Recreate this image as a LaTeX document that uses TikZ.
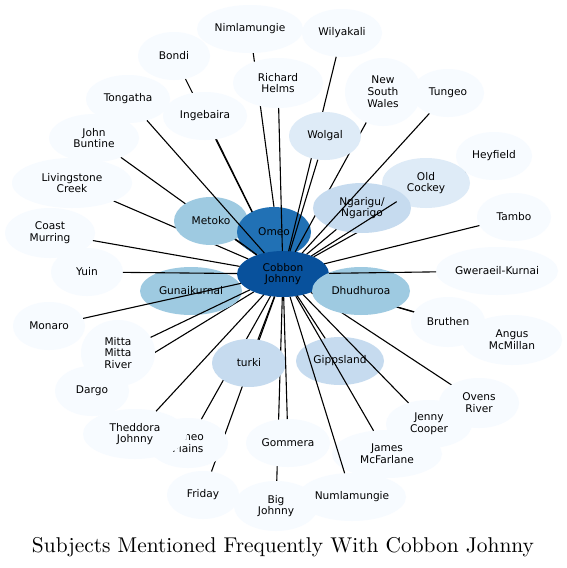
\documentclass[tikz,border=0pt]{standalone}
\usepackage{fontspec}
\newfontfamily\dvs{DejaVu Sans}
\newfontfamily\lmten{lmroman10-regular.otf}
\usetikzlibrary{shapes.geometric}
\definecolor{b1}{HTML}{F7FBFF}
\definecolor{b2}{HTML}{DEEBF7}
\definecolor{b3}{HTML}{C6DBEF}
\definecolor{b4}{HTML}{9ECAE1}
\definecolor{b7}{HTML}{2171B5}
\definecolor{b8}{HTML}{08519C}
\pgfdeclarelayer{bg}
\pgfdeclarelayer{eback}
\pgfdeclarelayer{emid}
\pgfdeclarelayer{ntop}
\pgfdeclarelayer{etop}
\pgfsetlayers{bg,eback,main,emid,ntop,etop}
\begin{document}
\begin{tikzpicture}[x=1pt,y=-1pt,
  nd/.style={ellipse,inner sep=0pt,outer sep=0pt,align=center,font=\dvs\fontsize{10.6pt}{11.8pt}\selectfont},
  ed/.style={draw=black,line width=1.1pt}]
\begin{pgfonlayer}{bg}
\fill[white] (0,0) rectangle (567,568);
\end{pgfonlayer}
\useasboundingbox (0,0) rectangle (567,568);
% main-layer nodes
\node[nd,fill=b1,minimum width=106pt,minimum height=48pt] (nim) at (250,29) {Nimlamungie};
\node[nd,fill=b1,minimum width=80pt,minimum height=48pt] (wil) at (342,33) {Wilyakali};
\node[nd,fill=b1,minimum width=72pt,minimum height=48pt] (bon) at (174,56) {Bondi};
\node[nd,fill=b1,minimum width=90pt,minimum height=50pt] (rh) at (278,83) {Richard\\Helms};
\node[nd,fill=b1,minimum width=76pt,minimum height=68pt] (nsw) at (383,92) {New\\South\\Wales};
\node[nd,fill=b1,minimum width=72pt,minimum height=48pt] (tun) at (448,93) {Tungeo};
\node[nd,fill=b1,minimum width=84pt,minimum height=48pt] (ton) at (128,99) {Tongatha};
\node[nd,fill=b1,minimum width=84pt,minimum height=48pt] (ing) at (205,116) {Ingebaira};
\node[nd,fill=b1,minimum width=76pt,minimum height=48pt] (hey) at (494,156) {Heyfield};
\node[nd,fill=b1,minimum width=90pt,minimum height=48pt] (jb) at (94,138) {John\\Buntine};
\node[nd,fill=b2,minimum width=88pt,minimum height=50pt] (oc) at (426,183) {Old\\Cockey};
\node[nd,fill=b1,minimum width=120pt,minimum height=50pt] (lc) at (72,183) {Livingstone\\Creek};
\node[nd,fill=b1,minimum width=74pt,minimum height=48pt] (tam) at (514,217) {Tambo};
\node[nd,fill=b4,minimum width=74pt,minimum height=48pt] (met) at (211,221) {Metoko};
\node[nd,fill=b7,minimum width=74pt,minimum height=50pt] (ome) at (274,232) {Omeo};
\node[nd,fill=b1,minimum width=90pt,minimum height=50pt] (cm) at (50,233) {Coast\\Murring};
\node[nd,fill=b1,minimum width=72pt,minimum height=48pt] (yui) at (87,272) {Yuin};
\node[nd,fill=b1,minimum width=122pt,minimum height=48pt] (gk) at (497,271) {Gweraeil-Kurnai};
\node[nd,fill=b4,minimum width=102pt,minimum height=48pt] (gun) at (191,291) {Gunaikurnai};
\node[nd,fill=b8,minimum width=92pt,minimum height=46pt] (cj) at (283,274) {Cobbon\\Johnny};
\node[nd,fill=b4,minimum width=98pt,minimum height=48pt] (dhu) at (361,291) {Dhudhuroa};
\node[nd,fill=b1,minimum width=100pt,minimum height=50pt] (am) at (512,340) {Angus\\McMillan};
\node[nd,fill=b1,minimum width=74pt,minimum height=50pt] (bru) at (448,322) {Bruthen};
\node[nd,fill=b1,minimum width=72pt,minimum height=48pt] (mon) at (49,326) {Monaro};
\node[nd,fill=b1,minimum width=74pt,minimum height=50pt] (dar) at (92,391) {Dargo};
\node[nd,fill=b1,minimum width=74pt,minimum height=66pt] (mmr) at (118,353) {Mitta\\Mitta\\River};
\node[nd,fill=b3,minimum width=74pt,minimum height=48pt] (tur) at (249,363) {turki};
\node[nd,fill=b3,minimum width=88pt,minimum height=48pt] (gip) at (340,361) {Gippsland};
\node[nd,fill=b1,minimum width=80pt,minimum height=50pt] (ovr) at (479,403) {Ovens\\River};
\node[nd,fill=b1,minimum width=86pt,minimum height=48pt] (jc) at (429,424) {Jenny\\Cooper};
\node[nd,fill=b1,minimum width=80pt,minimum height=50pt] (op) at (188,443) {Omeo\\Plains};
\node[nd,fill=b1,minimum width=104pt,minimum height=50pt] (tj) at (135,434) {Theddora\\Johnny};
\node[nd,fill=b1,minimum width=84pt,minimum height=48pt] (gom) at (288,443) {Gommera};
\node[nd,fill=b1,minimum width=110pt,minimum height=48pt] (jm) at (387,454) {James\\McFarlane};
\node[nd,fill=b1,minimum width=72pt,minimum height=48pt] (fri) at (203,495) {Friday};
\node[nd,fill=b1,minimum width=108pt,minimum height=48pt] (num) at (352,497) {Numlamungie};
\node[nd,fill=b1,minimum width=84pt,minimum height=50pt] (bj) at (276,506) {Big\\Johnny};
% top-layer nodes
\begin{pgfonlayer}{ntop}
\node[nd,fill=b2,minimum width=72pt,minimum height=48pt] (wol) at (325,136) {Wolgal};
\node[nd,fill=b3,minimum width=98pt,minimum height=50pt] (nga) at (362,208) {Ngarigu/\\Ngarigo};
\end{pgfonlayer}
% title
\node[font=\lmten\fontsize{21.4pt}{25pt}\selectfont] (title) at (283,547.5) {Subjects Mentioned Frequently With Cobbon Johnny};
% edges hidden under nodes
\begin{pgfonlayer}{eback}
\draw[ed] (nim) -- (cj);
\draw[ed] (bon) -- (cj);
\draw[ed] (ing) -- (cj);
\draw[ed] (lc) -- (cj);
\draw[ed] (jb) -- (cj);
\draw[ed] (hey) -- (cj);
\draw[ed] (am) -- (cj);
\draw[ed] (bru) -- (cj);
\draw[ed] (ovr) -- (cj);
\draw[ed] (dar) -- (cj);
\draw[ed] (fri) -- (cj);
\draw[ed] (op) -- (cj);
\draw[ed] (bj) -- (cj);
\end{pgfonlayer}
% edges over the main nodes
\begin{pgfonlayer}{emid}
\draw[ed] (rh) -- (cj);
\draw[ed] (wil) -- (cj);
\draw[ed] (wol) -- (cj);
\draw[ed] (nsw) -- (cj);
\draw[ed] (ton) -- (cj);
\draw[ed] (met) -- (cj);
\draw[ed] (cm) -- (cj);
\draw[ed] (yui) -- (cj);
\draw[ed] (mon) -- (cj);
\draw[ed] (mmr) -- (cj);
\draw[ed] (tj) -- (cj);
\draw[ed] (tur) -- (cj);
\draw[ed] (gom) -- (cj);
\draw[ed] (num) -- (cj);
\draw[ed] (gip) -- (cj);
\draw[ed] (jm) -- (cj);
\draw[ed] (jc) -- (cj);
\draw[ed] (gk) -- (cj);
\draw[ed] (tam) -- (cj);
\draw[ed] (nga) -- (cj);
\end{pgfonlayer}
% edges over the top nodes
\begin{pgfonlayer}{etop}
\draw[ed] (tun) -- (cj);
\draw[ed] (oc) -- (cj);
\end{pgfonlayer}
\end{tikzpicture}
\end{document}
